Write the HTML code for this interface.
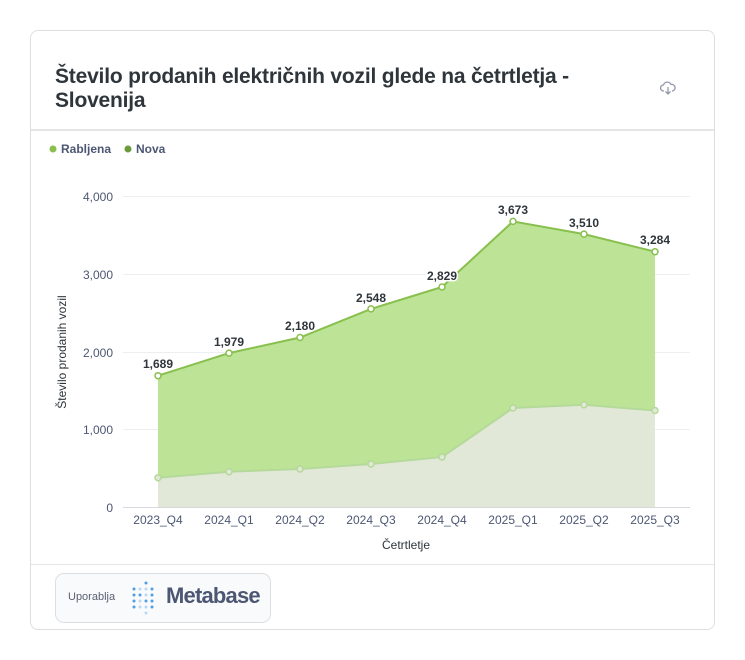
<!DOCTYPE html>
<html><head><meta charset="utf-8"><style>
body{margin:0;background:#fff;width:745px;height:660px;font-family:"Liberation Sans",sans-serif;}
.card{position:absolute;left:30px;top:30px;width:683px;height:598px;border:1px solid #dcdfe2;border-radius:8px;background:#fff;}
.title{position:absolute;left:24px;top:34px;font-size:21px;font-weight:bold;color:#2e353b;line-height:24px;letter-spacing:-0.2px;}
.hr1{position:absolute;left:0;right:0;top:98px;border-top:2px solid #e3e5e7;}
.hr2{position:absolute;left:0;right:0;top:533px;border-top:1px solid #e3e5e7;}
.badge{position:absolute;left:24px;top:542px;width:214px;height:48px;border:1px solid #dcdfe2;border-radius:9px;background:#f9fafb;}
</style></head><body>
<div class="card">
<div class="title">Število prodanih električnih vozil glede na četrtletja -<br>Slovenija</div>
<svg style="position:absolute;left:629px;top:50px" width="16" height="14" viewBox="0 0 16 14"><path d="M4 10H3.5A3 3 0 0 1 3.5 4 4 4 0 0 1 11 3.5 3 3 0 0 1 12.5 10H12" fill="none" stroke="#949aab" stroke-width="1.3"/><path d="M8 6v7M5.5 10.5 8 13l2.5-2.5" fill="none" stroke="#949aab" stroke-width="1.3"/></svg>
<div class="hr1"></div>
<div class="hr2"></div>
<div class="badge">
<span style="position:absolute;left:12px;top:17px;font-size:11px;color:#5a6072">Uporablja</span>
<svg style="position:absolute;left:75px;top:7px" width="28" height="34">
<g fill="#509ee3"><circle cx="3" cy="8" r="1.5"/><circle cx="3" cy="14" r="1.5"/><circle cx="3" cy="20" r="1.5"/><circle cx="3" cy="26" r="1.5"/><circle cx="9" cy="14" r="1.5"/><circle cx="15" cy="20" r="1.5"/><circle cx="21" cy="8" r="1.5"/><circle cx="21" cy="14" r="1.5"/><circle cx="21" cy="20" r="1.5"/><circle cx="21" cy="26" r="1.5"/><circle cx="15" cy="2" r="1.5"/></g>
<g fill="#b9d8f4"><circle cx="9" cy="8" r="1.5"/><circle cx="9" cy="20" r="1.5"/><circle cx="9" cy="26" r="1.5"/><circle cx="15" cy="8" r="1.5"/><circle cx="15" cy="14" r="1.5"/><circle cx="15" cy="26" r="1.5"/><circle cx="15" cy="32" r="1.5"/></g></svg>
<span style="position:absolute;left:110px;top:9px;font-size:22px;font-weight:bold;color:#4c5773;letter-spacing:-0.8px">Metabase</span>
</div>
</div>
<svg style="position:absolute;left:0;top:0" width="745" height="660" font-family="Liberation Sans, sans-serif">
<circle cx="53" cy="149" r="3.5" fill="#88bf4d"/><text x="61" y="153" font-size="12" font-weight="bold" fill="#4c5773">Rabljena</text>
<circle cx="128" cy="149" r="3.5" fill="#6b9b3a"/><text x="136" y="153" font-size="12" font-weight="bold" fill="#4c5773">Nova</text>
<g stroke="#eceef0" stroke-width="1"><line x1="123" x2="690" y1="196.5" y2="196.5"/><line x1="123" x2="690" y1="274.5" y2="274.5"/><line x1="123" x2="690" y1="352.5" y2="352.5"/><line x1="123" x2="690" y1="429.5" y2="429.5"/></g>
<line x1="123" x2="690" y1="507.5" y2="507.5" stroke="#d5d8dc"/>
<g font-size="12" fill="#4c5773" text-anchor="end"><text x="113" y="201">4,000</text><text x="113" y="279">3,000</text><text x="113" y="357">2,000</text><text x="113" y="434">1,000</text><text x="113" y="512">0</text></g>
<text transform="translate(66,352) rotate(-90)" font-size="12" fill="#2e353b" text-anchor="middle">Število prodanih vozil</text>
<polygon points="158,375.7 229,353.1 300,337.5 371,308.9 442,287 513,221.4 584,234.1 655,251.7 655,410.5 584,404.7 513,408 442,457 371,464 300,469 229,471.7 158,477.7" fill="#bde496"/>
<polyline points="158,375.7 229,353.1 300,337.5 371,308.9 442,287 513,221.4 584,234.1 655,251.7" fill="none" stroke="#88bf4d" stroke-width="2"/>
<polygon points="158,477.7 229,471.7 300,469 371,464 442,457 513,408 584,404.7 655,410.5 655,507 158,507" fill="#e1e8d7"/>
<polyline points="158,477.7 229,471.7 300,469 371,464 442,457 513,408 584,404.7 655,410.5" fill="none" stroke="#b5d99a" stroke-width="2"/>
<g fill="#fff" stroke="#88bf4d" stroke-width="1.5"><circle cx="158" cy="375.7" r="3"/><circle cx="229" cy="353.1" r="3"/><circle cx="300" cy="337.5" r="3"/><circle cx="371" cy="308.9" r="3"/><circle cx="442" cy="287" r="3"/><circle cx="513" cy="221.4" r="3"/><circle cx="584" cy="234.1" r="3"/><circle cx="655" cy="251.7" r="3"/></g>
<g fill="#e1e8d7" stroke="#b5d99a" stroke-width="1.5"><circle cx="158" cy="477.7" r="3"/><circle cx="229" cy="471.7" r="3"/><circle cx="300" cy="469" r="3"/><circle cx="371" cy="464" r="3"/><circle cx="442" cy="457" r="3"/><circle cx="513" cy="408" r="3"/><circle cx="584" cy="404.7" r="3"/><circle cx="655" cy="410.5" r="3"/></g>
<g font-size="12" font-weight="bold" fill="#2e353b" text-anchor="middle" stroke="#fff" stroke-width="3" paint-order="stroke"><text x="158" y="368">1,689</text><text x="229" y="346">1,979</text><text x="300" y="330">2,180</text><text x="371" y="302">2,548</text><text x="442" y="280">2,829</text><text x="513" y="214">3,673</text><text x="584" y="227">3,510</text><text x="655" y="244">3,284</text></g>
<g font-size="12" fill="#4c5773" text-anchor="middle"><text x="158" y="524">2023_Q4</text><text x="229" y="524">2024_Q1</text><text x="300" y="524">2024_Q2</text><text x="371" y="524">2024_Q3</text><text x="442" y="524">2024_Q4</text><text x="513" y="524">2025_Q1</text><text x="584" y="524">2025_Q2</text><text x="655" y="524">2025_Q3</text></g>
<text x="406" y="549" font-size="12" fill="#2e353b" text-anchor="middle">Četrtletje</text>
</svg>
</body></html>
